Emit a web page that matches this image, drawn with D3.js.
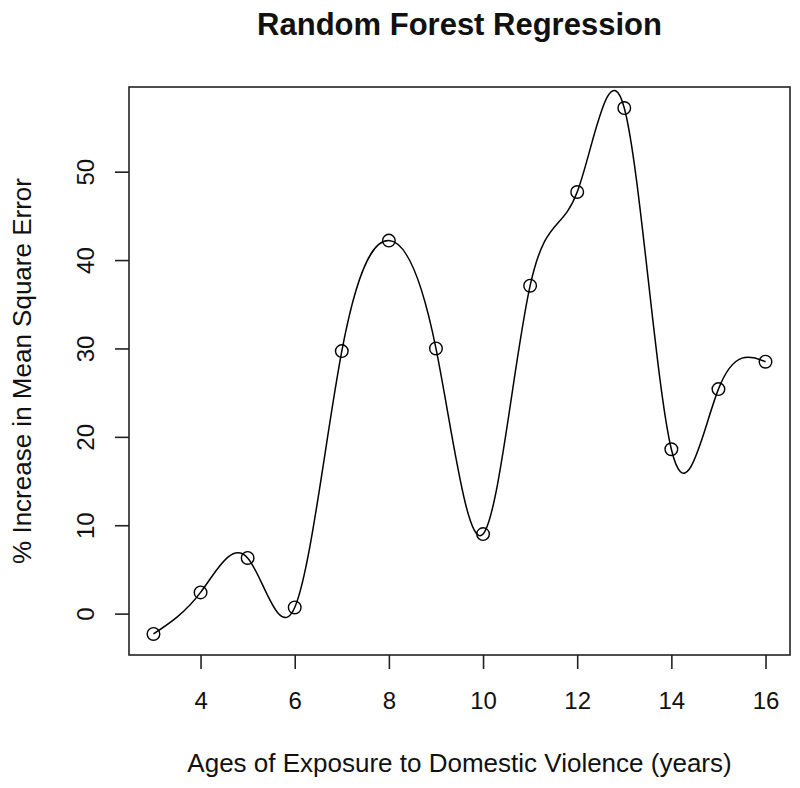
<!DOCTYPE html>
<html>
<head>
<meta charset="utf-8">
<script src="https://cdn.jsdelivr.net/npm/d3@7"></script>
<style>
  body { margin: 0; background: #fff; }
  text { font-family: "Liberation Sans", Arial, sans-serif; fill: #111; }
</style>
</head>
<body>
<div id="chart"></div>
<script>
// data
var ages = [3, 4, 5, 6, 7, 8, 9, 10, 11, 12, 13, 14, 15, 16];
var incMSE = [-2.3, 2.4, 6.3, 0.7, 29.7, 42.2, 30.0, 9.0, 37.1, 47.7, 57.2, 18.6, 25.4, 28.5];
var xTicks = [4, 6, 8, 10, 12, 14, 16];
var yTicks = [0, 10, 20, 30, 40, 50];
var titleText = "Random Forest Regression";
var xLabel = "Ages of Exposure to Domestic Violence (years)";
var yLabel = "% Increase in Mean Square Error";

// set the dimensions and margins of the graph
var W = 800, H = 788;
var margin = {top: 87, right: 10, bottom: 133, left: 129},
    width = W - margin.left - margin.right,
    height = H - margin.top - margin.bottom;

var svg = d3.select("#chart")
  .append("svg")
  .attr("width", W)
  .attr("height", H);

var g = svg.append("g")
  .attr("transform", "translate(" + margin.left + "," + margin.top + ")");

// R style 4% padding of the data range
function padded(v) {
  var e = d3.extent(v), p = (e[1] - e[0]) * 0.04;
  return [e[0] - p, e[1] + p];
}

var x = d3.scaleLinear().domain(padded(ages)).range([0, width]);
var y = d3.scaleLinear().domain(padded(incMSE)).range([height, 0]);

var pts = ages.map(function(a, i) { return [a, incMSE[i]]; });

// the spline through the points
g.append("path")
  .datum(pts)
  .attr("fill", "none")
  .attr("stroke", "#000")
  .attr("stroke-width", 1.5)
  .attr("d", d3.line()
    .curve(d3.curveNatural)
    .x(function(d) { return x(d[0]); })
    .y(function(d) { return y(d[1]); }));

// points
g.selectAll("circle")
  .data(pts)
  .enter().append("circle")
  .attr("cx", function(d) { return x(d[0]); })
  .attr("cy", function(d) { return y(d[1]); })
  .attr("r", 6.3)
  .attr("fill", "none")
  .attr("stroke", "#000")
  .attr("stroke-width", 1.4);

// box
g.append("rect")
  .attr("width", width)
  .attr("height", height)
  .attr("fill", "none")
  .attr("stroke", "#222")
  .attr("stroke-width", 1.6);

// x axis
var xAxis = g.append("g")
  .attr("transform", "translate(0," + height + ")")
  .call(d3.axisBottom(x).tickValues(xTicks).tickSize(14).tickPadding(23).tickSizeOuter(0));
xAxis.select(".domain").remove();
xAxis.selectAll("line").attr("stroke", "#222").attr("stroke-width", 1.6);
xAxis.selectAll("text").attr("font-size", 24).attr("fill", "#111")
  .attr("font-family", "Liberation Sans, Arial, sans-serif");

// y axis, labels parallel to the axis
var yAxis = g.append("g")
  .call(d3.axisLeft(y).tickValues(yTicks).tickSize(14).tickSizeOuter(0).tickFormat(d3.format("d")));
yAxis.select(".domain").remove();
yAxis.selectAll("line").attr("stroke", "#222").attr("stroke-width", 1.6);
yAxis.selectAll("text")
  .attr("font-size", 24).attr("fill", "#111")
  .attr("font-family", "Liberation Sans, Arial, sans-serif")
  .attr("x", null).attr("dy", null)
  .attr("text-anchor", "middle")
  .attr("transform", "translate(-44,0) rotate(-90)")
  .attr("dominant-baseline", "central");

// title
svg.append("text")
  .attr("x", margin.left + width / 2)
  .attr("y", 35)
  .attr("text-anchor", "middle")
  .attr("font-size", 31)
  .attr("font-weight", "bold")
  .text(titleText);

// axis titles
svg.append("text")
  .attr("x", margin.left + width / 2)
  .attr("y", 772)
  .attr("text-anchor", "middle")
  .attr("font-size", 26)
  .text(xLabel);

svg.append("text")
  .attr("transform", "translate(31," + (margin.top + height / 2) + ") rotate(-90)")
  .attr("text-anchor", "middle")
  .attr("font-size", 26)
  .text(yLabel);
</script>
</body>
</html>
